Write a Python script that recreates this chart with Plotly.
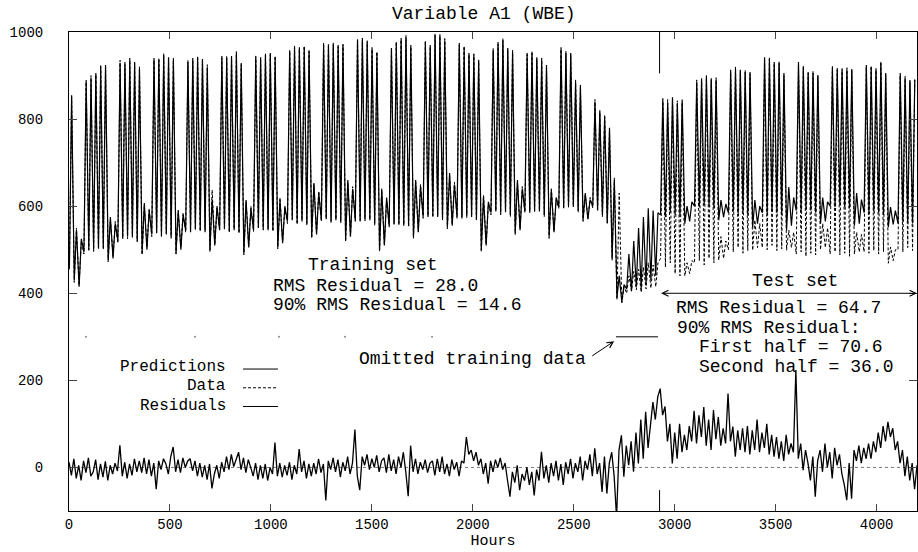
import plotly.graph_objects as go

# ---------------- data ----------------
# Daily values, grouped by week (week 0 = Fri..Sun, weeks 1..25 = Mon..Sun)
pred_peak_weeks = [
    [855, 545, 525],
    [890, 894, 906, 919, 924, 575, 560],
    [929, 931, 936, 931, 915, 607, 590],
    [940, 936, 947, 942, 936, 591, 580],
    [931, 940, 940, 938, 919, 615, 600],
    [945, 940, 945, 952, 929, 614, 595],
    [942, 942, 947, 952, 942, 614, 600],
    [958, 965, 965, 965, 958, 653, 630],
    [970, 972, 972, 970, 970, 660, 640],
    [981, 986, 977, 965, 952, 637, 620],
    [963, 975, 986, 988, 970, 660, 645],
    [977, 970, 993, 995, 981, 676, 650],
    [975, 963, 952, 947, 936, 621, 610],
    [958, 977, 981, 963, 954, 660, 640],
    [952, 952, 942, 936, 924, 637, 620],
    [965, 952, 952, 885, 878, 630, 615],
    [840, 820, 805, 780, 660, 440, 420],
    [490, 520, 550, 575, 595, 590, 585],
    [848, 837, 850, 837, 845, 600, 610],
    [885, 894, 897, 894, 890, 614, 605],
    [913, 915, 913, 908, 908, 614, 600],
    [942, 938, 931, 929, 906, 644, 620],
    [931, 919, 908, 906, 901, 620, 610],
    [917, 913, 913, 913, 913, 630, 615],
    [924, 919, 917, 929, 906, 598, 590],
    [906, 894, 890, 890],
]
pred_trough_weeks = [
    [460, 430, 415],
    [495, 498, 500, 502, 505, 476, 480],
    [520, 525, 530, 528, 520, 492, 500],
    [535, 538, 532, 535, 530, 492, 500],
    [545, 540, 548, 545, 540, 499, 510],
    [545, 548, 542, 545, 540, 492, 505],
    [545, 550, 548, 545, 545, 506, 515],
    [565, 568, 562, 565, 560, 530, 535],
    [568, 570, 565, 568, 565, 522, 530],
    [568, 565, 570, 568, 560, 499, 510],
    [555, 558, 560, 555, 555, 530, 540],
    [576, 575, 578, 575, 570, 552, 555],
    [575, 572, 578, 575, 570, 499, 510],
    [585, 588, 584, 586, 580, 538, 545],
    [588, 585, 590, 588, 580, 530, 540],
    [598, 595, 600, 598, 590, 568, 570],
    [600, 590, 580, 560, 480, 390, 380],
    [410, 405, 415, 410, 420, 430, 440],
    [580, 575, 585, 580, 575, 560, 565],
    [600, 598, 602, 598, 595, 568, 575],
    [585, 588, 584, 586, 580, 552, 560],
    [585, 582, 588, 585, 580, 545, 555],
    [590, 588, 592, 590, 585, 560, 565],
    [600, 598, 602, 598, 595, 555, 560],
    [585, 582, 588, 585, 580, 552, 558],
    [560, 565, 562, 560],
]
data_peak_weeks = [
    [850, 550, 520],
    [885, 900, 902, 925, 920, 570, 565],
    [935, 925, 940, 928, 920, 600, 595],
    [935, 940, 950, 938, 940, 585, 585],
    [935, 935, 945, 935, 925, 637, 595],
    [940, 945, 940, 955, 925, 610, 600],
    [945, 938, 950, 948, 945, 620, 595],
    [955, 968, 960, 968, 955, 650, 635],
    [975, 968, 975, 966, 972, 655, 645],
    [985, 980, 980, 960, 955, 640, 615],
    [960, 978, 982, 992, 965, 655, 650],
    [980, 966, 996, 990, 985, 670, 655],
    [970, 968, 948, 950, 932, 625, 605],
    [962, 972, 985, 960, 958, 655, 645],
    [948, 956, 938, 940, 920, 640, 615],
    [960, 956, 948, 890, 872, 625, 620],
    [845, 815, 810, 775, 665, 630, 415],
    [440, 450, 455, 460, 470, 465, 470],
    [840, 845, 845, 842, 838, 470, 475],
    [890, 888, 900, 890, 895, 530, 520],
    [908, 920, 910, 912, 904, 568, 560],
    [935, 942, 928, 932, 900, 545, 540],
    [925, 922, 905, 910, 898, 560, 550],
    [922, 918, 916, 918, 915, 540, 535],
    [920, 922, 912, 932, 902, 506, 500],
    [900, 898, 886, 893],
]
data_trough_weeks = [
    [455, 425, 418],
    [490, 500, 496, 505, 500, 472, 485],
    [515, 528, 525, 532, 518, 488, 505],
    [530, 540, 528, 538, 526, 490, 505],
    [540, 545, 545, 542, 545, 495, 512],
    [548, 545, 540, 548, 538, 488, 508],
    [542, 552, 545, 548, 542, 502, 518],
    [560, 570, 558, 568, 556, 526, 538],
    [565, 572, 562, 570, 562, 518, 532],
    [565, 568, 566, 570, 556, 495, 512],
    [552, 560, 556, 558, 552, 526, 542],
    [572, 578, 574, 578, 566, 548, 558],
    [572, 575, 574, 578, 566, 495, 512],
    [580, 590, 580, 588, 576, 535, 548],
    [585, 588, 586, 590, 576, 526, 542],
    [595, 598, 596, 600, 586, 565, 572],
    [596, 592, 576, 562, 476, 385, 378],
    [400, 405, 408, 402, 410, 412, 415],
    [480, 460, 470, 445, 440, 440, 445],
    [470, 475, 465, 480, 470, 476, 480],
    [500, 495, 505, 492, 498, 499, 505],
    [505, 500, 510, 498, 502, 499, 505],
    [490, 495, 485, 492, 488, 500, 505],
    [490, 495, 488, 492, 485, 490, 495],
    [495, 492, 498, 490, 495, 469, 475],
    [500, 495, 505, 498],
]

# Residuals sampled every 12 hours (blocks of 120 hours)
residual_blocks = [
    [12, -18, 20, -25, 5, -30, 15, -12, 22, -20],
    [-10, 18, -28, 8, -22, 14, -30, 5, -15, 10],
    [-8, 51, -20, 12, -25, 8, -18, 20, -10, 15],
    [-12, 22, -15, 18, -20, 10, -50, 15, -5, 20],
    [8, -15, 25, 47, -10, 18, -12, 22, 0, 15],
    [20, -8, 15, -20, 10, -22, 5, -28, 8, -48],
    [-15, 5, -25, 12, -10, 25, -5, 30, 2, 20],
    [35, -5, 22, -12, 18, 0, -20, 10, -28, 5],
    [-25, 8, -30, 0, -15, 57, -20, 10, -22, 5],
    [-18, 12, -28, 5, -15, 42, -10, 15, -25, 8],
    [-20, 10, -15, 20, -12, 8, -76, 15, -5, 22],
    [-10, 18, -22, 12, -8, 25, -15, 10, 87, -20],
    [-52, 25, 5, 30, -5, 20, 0, 28, -10, 15],
    [22, -12, 30, -8, 18, -15, 25, 0, 35, -10],
    [-66, 50, -10, 20, -15, 12, -5, 18, -12, 10],
    [15, -18, 20, -10, 25, -15, 8, -20, 18, -5],
    [12, -20, 15, 10, 70, 30, 40, 15, 35, 5],
    [20, -15, 10, -37, 15, -10, 18, 0, 22, -5],
    [10, -30, -67, -10, -35, 5, -52, -15, -30, 0],
    [-40, -10, -64, -5, -30, 36, -25, 5, -35, 10],
    [-20, 15, -30, 8, -40, 12, -15, 20, -25, 10],
    [-10, 25, -30, 15, -5, 30, -20, 44, -15, 10],
    [-56, 25, -60, 10, 35, -20, -115, 40, 74, -21],
    [50, 5, 60, -10, 80, 9, 110, 20, 128, 45],
    [100, 150, 110, 162, 181, 120, 140, 60, 100, 9],
    [80, 20, 100, 35, 75, 40, 95, 60, 130, 55],
    [120, 70, 139, 50, 110, 40, 132, 65, 116, 50],
    [90, 55, 170, 60, 94, 25, 85, 40, 90, 35],
    [95, 30, 85, 40, 110, 35, 80, 45, 100, 30],
    [75, 25, 70, 20, 60, 15, 75, 30, 55, 35],
    [224, 20, 55, -6, 40, 10, -30, 25, -67, 15],
    [40, -10, 55, 0, 35, -25, 45, 5, 30, -15],
    [-40, -75, 10, -72, 40, 15, 50, 10, 45, 20],
    [55, 20, 60, 35, 80, 45, 95, 60, 105, 70],
    [90, 40, 60, 10, 40, -20, 25, -30, 10, -50],
    [5],
]

test_start_hour = 2925
omitted_span = [2709, 2917]
omitted_level = 300
omitted_points = [84, 624, 1040, 1367, 1798]
x_ticks = [0, 500, 1000, 1500, 2000, 2500, 3000, 3500, 4000]
y_ticks = [0, 200, 400, 600, 800, 1000]

# ---------------- build series ----------------
def flat(w):
    return [v for wk in w for v in wk]

pred_peak = flat(pred_peak_weeks)
pred_trough = flat(pred_trough_weeks)
data_peak = flat(data_peak_weeks)
data_trough = flat(data_trough_weeks)
residuals = flat(residual_blocks)

hours, pred_y, data_y = [], [], []
for d in range(len(pred_peak)):
    hours += [24 * d + 2, 24 * d + 13]
    pred_y += [pred_trough[d], pred_peak[d]]
    data_y += [data_trough[d], data_peak[d]]
res_hours = [12 * i for i in range(len(residuals))]

FONT = "Liberation Mono, Courier New, monospace"
fig = go.Figure()
fig.add_trace(go.Scatter(x=hours, y=pred_y, mode="lines",
                         line=dict(color="black", width=1.2), name="Predictions"))
fig.add_trace(go.Scatter(x=hours, y=data_y, mode="lines",
                         line=dict(color="black", width=1, dash="3px,2px"), name="Data"))
fig.add_trace(go.Scatter(x=res_hours, y=residuals, mode="lines",
                         line=dict(color="black", width=1.3), name="Residuals"))
fig.add_trace(go.Scatter(x=omitted_span, y=[omitted_level] * 2, mode="lines",
                         line=dict(color="black", width=1), showlegend=False))
fig.add_trace(go.Scatter(x=omitted_points, y=[omitted_level] * len(omitted_points),
                         mode="markers", marker=dict(symbol="circle", size=2, color="#888",
                         line=dict(width=0)), showlegend=False))

# zero dotted line and test-start marks
fig.add_shape(type="line", xref="paper", x0=0, x1=1, y0=0, y1=0,
              line=dict(color="#777", width=1, dash="dot"), layer="below")
fig.add_shape(type="line", x0=test_start_hour, x1=test_start_hour, y0=905, y1=1000,
              line=dict(color="black", width=1))
fig.add_shape(type="line", x0=test_start_hour, x1=test_start_hour, y0=-100, y1=-52,
              line=dict(color="black", width=1))

ann = []
def txt(x, y, s, anchor="left", size=18):
    ann.append(dict(x=x, y=y, text=s, showarrow=False, xanchor=anchor, yanchor="middle",
                    font=dict(family=FONT, size=size, color="black")))

txt(1506, 465, "Training set", "center")
txt(1000, 417, "RMS Residual = 28.0")
txt(1000, 373, "90% RMS Residual = 14.6")
txt(3596, 428, "Test set", "center")
txt(2996, 366, "RMS Residual = 64.7")
txt(3001, 320, "90% RMS Residual:")
txt(3110, 276, "First half = 70.6")
txt(3110, 231, "Second half = 36.0")
txt(2570, 249, "Omitted training data", "right")
# legend
txt(787, 230, "Predictions", "right", 16)
txt(787, 186, "Data", "right", 16)
txt(787, 142, "Residuals", "right", 16)
ann.append(dict(x=4200, y=400, ax=test_start_hour, ay=400, axref="x", ayref="y",
                text="", showarrow=True, arrowhead=5, startarrowhead=5,
                arrowside="end+start", arrowwidth=1, arrowsize=1.2, arrowcolor="black"))
ann.append(dict(x=2700, y=290, ax=2584, ay=254, axref="x", ayref="y",
                text="", showarrow=True, arrowhead=5, arrowwidth=1, arrowsize=1.2,
                arrowcolor="black"))

fig.add_shape(type="line", x0=862, x1=1035, y0=226, y1=226, line=dict(color="black", width=1))
fig.add_shape(type="line", x0=862, x1=1035, y0=183, y1=183,
              line=dict(color="black", width=1, dash="3px,2px"))
fig.add_shape(type="line", x0=862, x1=1035, y0=140, y1=140, line=dict(color="black", width=1))

fig.update_layout(
    width=918, height=552, margin=dict(l=69, r=1, t=32, b=41),
    paper_bgcolor="white", plot_bgcolor="white", showlegend=False,
    annotations=ann,
    title=dict(text="Variable A1 (WBE)", x=0.527, xanchor="center", y=0.977, yanchor="middle",
               font=dict(family=FONT, size=18, color="black")),
    font=dict(family=FONT, color="black"),
)
fig.update_xaxes(range=[0, 4200], tickvals=x_ticks, ticks="inside", ticklen=7,
                 showline=True, linecolor="black", linewidth=1, mirror="ticks",
                 showgrid=False, zeroline=False, tickfont=dict(size=14),
                 title=dict(text="Hours", font=dict(size=15), standoff=0))
fig.update_yaxes(range=[-100, 1000], tickvals=y_ticks, ticks="inside", ticklen=8,
                 showline=True, linecolor="black", linewidth=1, mirror="ticks",
                 showgrid=False, zeroline=False, tickfont=dict(size=14),
                 ticklabelstandoff=22)

fig.write_html("out.html")
